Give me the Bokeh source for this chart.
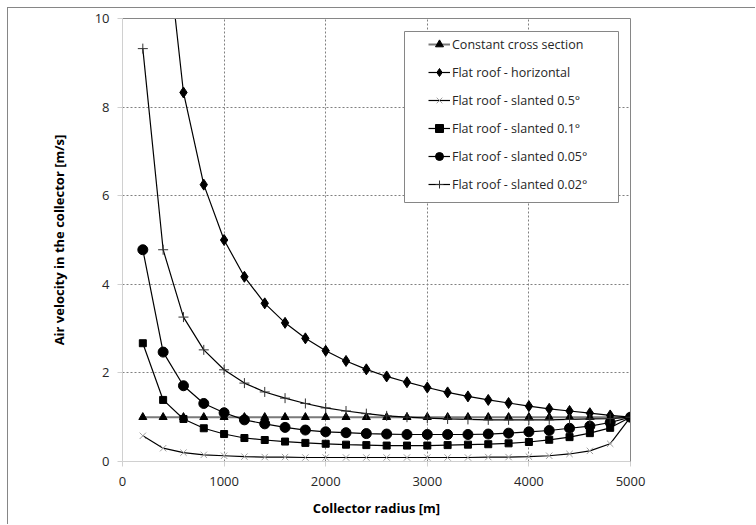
from bokeh.plotting import figure
from bokeh.models import (Range1d, FixedTicker, LinearAxis, Legend, LegendItem,
                          BoxAnnotation, ColumnDataSource)
from bokeh.embed import file_html
from bokeh.resources import INLINE

# ---------------- data ----------------
radius = [200, 400, 600, 800, 1000, 1200, 1400, 1600, 1800, 2000, 2200, 2400, 2600,
          2800, 3000, 3200, 3400, 3600, 3800, 4000, 4200, 4400, 4600, 4800, 5000]

constant_cross = [1.0, 1.0, 1.0, 1.0, 1.0, 1.0, 1.0, 1.0, 1.0, 1.0, 1.0, 1.0, 1.0,
                  1.0, 1.0, 1.0, 1.0, 1.0, 1.0, 1.0, 1.0, 1.0, 1.0, 1.0, 1.0]

flat_horizontal = [25.0, 12.5, 8.33, 6.25, 5.0, 4.17, 3.57, 3.13, 2.78, 2.5, 2.27, 2.08, 1.92,
                   1.79, 1.67, 1.56, 1.47, 1.39, 1.32, 1.25, 1.19, 1.14, 1.09, 1.04, 1.0]

slanted_05 = [0.58, 0.30, 0.20, 0.15, 0.13, 0.11, 0.10, 0.10, 0.09, 0.09, 0.09, 0.09, 0.09,
              0.09, 0.09, 0.09, 0.09, 0.10, 0.10, 0.11, 0.13, 0.17, 0.24, 0.40, 1.0]

slanted_01 = [2.67, 1.39, 0.96, 0.75, 0.62, 0.53, 0.485, 0.45, 0.42, 0.40, 0.38, 0.37, 0.36,
              0.36, 0.36, 0.37, 0.38, 0.39, 0.41, 0.44, 0.49, 0.55, 0.64, 0.76, 1.0]

slanted_005 = [4.78, 2.47, 1.71, 1.31, 1.10, 0.94, 0.85, 0.77, 0.71, 0.67, 0.65, 0.63, 0.62,
               0.61, 0.61, 0.61, 0.61, 0.62, 0.64, 0.67, 0.70, 0.75, 0.80, 0.88, 1.0]

slanted_002 = [9.32, 4.78, 3.26, 2.52, 2.07, 1.77, 1.57, 1.43, 1.31, 1.21, 1.14, 1.08, 1.03,
               1.00, 0.98, 0.96, 0.95, 0.94, 0.94, 0.94, 0.94, 0.95, 0.96, 0.97, 1.0]

series_labels = ["Constant cross section", "Flat roof - horizontal", "Flat roof - slanted 0.5°",
                 "Flat roof - slanted 0.1°", "Flat roof - slanted 0.05°", "Flat roof - slanted 0.02°"]

x_ticks = [0, 1000, 2000, 3000, 4000, 5000]
y_ticks = [0, 2, 4, 6, 8, 10]

x_title = "Collector radius [m]"
y_title = "Air velocity in the collector [m/s]"

# ---------------- figure ----------------
FONT = "Open Sans"
TEXT = "#262626"

p = figure(width=748, height=517, output_backend="svg", toolbar_location=None,
           x_range=Range1d(0, 5000), y_range=Range1d(0, 10),
           min_border_left=114, min_border_top=10, min_border_right=126, min_border_bottom=64)
p.outline_line_color = None
p.background_fill_color = "white"
p.border_fill_color = "white"
p.styles = {"margin-left": "7px", "margin-top": "7px",
            "border-left": "1px solid #868686", "border-top": "1px solid #868686"}

# axes
xa = p.xaxis[0]
ya = p.yaxis[0]
xa.ticker = FixedTicker(ticks=x_ticks)
ya.ticker = FixedTicker(ticks=y_ticks)
for ax in (xa, ya):
    ax.axis_line_color = "#d0d0d0"
    ax.major_tick_line_color = "#d0d0d0"
    ax.minor_tick_line_color = None
    ax.major_tick_in = 0
    ax.major_tick_out = 5
    ax.major_label_text_font = FONT
    ax.major_label_text_font_size = "13px"
    ax.major_label_text_color = TEXT
    ax.axis_label_text_font = FONT
    ax.axis_label_text_font_size = "13px"
    ax.axis_label_text_font_style = "bold"
    ax.axis_label_text_color = "#000000"
xa.major_label_standoff = 10
xa.axis_label_standoff = 10
ya.major_label_standoff = 8
ya.axis_label_standoff = 24
xa.axis_label = x_title
ya.axis_label = y_title

# dark top/right plot border
for place in ("right", "above"):
    ex = LinearAxis(ticker=FixedTicker(ticks=[]), axis_line_color="#868686",
                    major_tick_line_color=None, minor_tick_line_color=None)
    p.add_layout(ex, place)

# grid
p.xgrid.ticker = FixedTicker(ticks=x_ticks[1:-1])
p.ygrid.ticker = FixedTicker(ticks=y_ticks[1:-1])
for g in (p.xgrid, p.ygrid):
    g.grid_line_color = "#808080"
    g.grid_line_dash = "2 2"
    g.grid_line_width = 1

src = ColumnDataSource(dict(r=radius, c=constant_cross, h=flat_horizontal, s05=slanted_05,
                            s01=slanted_01, s005=slanted_005, s002=slanted_002))

items = []

l = p.line("r", "c", source=src, line_color="#7a7a7a", line_width=2)
m = p.scatter("r", "c", source=src, marker="triangle", size=8, fill_color="black", line_color="black")
items.append(LegendItem(label=series_labels[0], renderers=[l, m]))

l = p.line("r", "h", source=src, line_color="black", line_width=1.2)
m = p.scatter("r", "h", source=src, marker="diamond", size=11, fill_color="black", line_color="black")
items.append(LegendItem(label=series_labels[1], renderers=[l, m]))

l = p.line("r", "s05", source=src, line_color="black", line_width=1.2)
m = p.scatter("r", "s05", source=src, marker="x", size=9, line_color="#a0a0a0", line_width=1)
items.append(LegendItem(label=series_labels[2], renderers=[l, m]))

l = p.line("r", "s01", source=src, line_color="black", line_width=1.2)
m = p.scatter("r", "s01", source=src, marker="square", size=7, fill_color="black", line_color="black")
items.append(LegendItem(label=series_labels[3], renderers=[l, m]))

l = p.line("r", "s005", source=src, line_color="black", line_width=1.2)
m = p.scatter("r", "s005", source=src, marker="circle", size=10, fill_color="black", line_color="black")
items.append(LegendItem(label=series_labels[4], renderers=[l, m]))

l = p.line("r", "s002", source=src, line_color="black", line_width=1.2)
m = p.scatter("r", "s002", source=src, marker="cross", size=10, line_color="#333333", line_width=1)
items.append(LegendItem(label=series_labels[5], renderers=[l, m]))

# legend frame
box = BoxAnnotation(left=395, right=609, top=22, bottom=193,
                    left_units="canvas", right_units="canvas",
                    top_units="canvas", bottom_units="canvas",
                    fill_color="white", fill_alpha=1.0,
                    line_color="#868686", line_width=1, line_alpha=1.0)
p.add_layout(box)

legend = Legend(items=items, location=(306, 267), padding=0, margin=0, spacing=8,
                label_height=20, glyph_height=20, glyph_width=22, label_standoff=2,
                border_line_alpha=0, background_fill_alpha=0,
                label_text_font=FONT, label_text_font_size="12.5px", label_text_color=TEXT)
p.add_layout(legend)

open("out.html", "w").write(file_html(p, INLINE))
